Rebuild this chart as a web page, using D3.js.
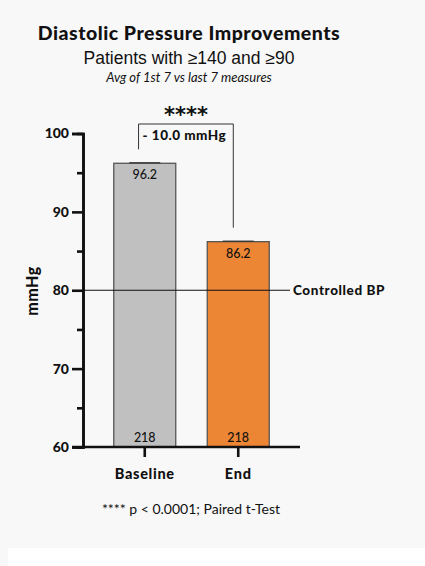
<!DOCTYPE html>
<html>
<head>
<meta charset="utf-8">
<script src="https://cdn.jsdelivr.net/npm/d3@7"></script>
<style>
  html, body { margin: 0; padding: 0; background: #f8f8f8; }
  svg { display: block; }
  text { fill: #111; }
</style>
</head>
<body>
<div id="chart"></div>
<script>
"use strict";

// chart data
var categories = ["Baseline", "End"];
var means = [96.2, 86.2];
var counts = [218, 218];
var colors = ["#c0c0c0", "#ec8534"];
var yMajorTicks = [60, 70, 80, 90, 100];
var yMinorTicks = [65, 75, 85, 95];
var controlledBP = 80;
var diffLabel = "- 10.0 mmHg";

var width = 425;
var height = 566;

var svg = d3.select("#chart")
    .append("svg")
    .attr("width", width)
    .attr("height", height);

// white strip at the bottom of the slide
svg.append("rect")
    .attr("x", 8).attr("y", 548)
    .attr("width", width - 8).attr("height", height - 548)
    .attr("fill", "#ffffff");

// titles
svg.append("text")
    .attr("x", 189).attr("y", 40)
    .attr("text-anchor", "middle")
    .style("font-family", "Lato, 'DejaVu Sans', sans-serif")
    .style("font-weight", "900")
    .style("font-size", "19.5px")
    .style("letter-spacing", "0.5px")
    .text("Diastolic Pressure Improvements");

svg.append("text")
    .attr("x", 189).attr("y", 64)
    .attr("text-anchor", "middle")
    .style("font-family", "'Liberation Sans', Arial, sans-serif")
    .style("font-size", "17.5px")
    .text("Patients with \u2265140 and \u226590");

svg.append("text")
    .attr("x", 189).attr("y", 82)
    .attr("text-anchor", "middle")
    .style("font-family", "Lato, sans-serif")
    .style("font-style", "italic")
    .style("font-size", "13px")
    .text("Avg of 1st 7 vs last 7 measures");

// scales
var y = d3.scaleLinear().domain([60, 100]).range([447, 133.5]);
var x = d3.scaleBand()
    .domain(categories)
    .range([83, 300])
    .paddingInner(0.337)
    .paddingOuter(0.329);

var plot = svg.append("g");

// bars
var bars = plot.selectAll("g.bar")
    .data(categories)
    .enter()
    .append("g")
    .attr("class", "bar");

bars.append("rect")
    .attr("x", function(d) { return x(d); })
    .attr("y", function(d, i) { return y(means[i]); })
    .attr("width", x.bandwidth())
    .attr("height", function(d, i) { return y(60) - y(means[i]); })
    .attr("fill", function(d, i) { return colors[i]; })
    .attr("stroke", "#555")
    .attr("stroke-width", 1.3);

// tiny error bars
bars.append("line")
    .attr("x1", function(d) { return x(d) + x.bandwidth() * 0.25; })
    .attr("x2", function(d) { return x(d) + x.bandwidth() * 0.75; })
    .attr("y1", function(d, i) { return y(means[i]) - 0.5; })
    .attr("y2", function(d, i) { return y(means[i]) - 0.5; })
    .attr("stroke", "#333")
    .attr("stroke-width", 1.2);

bars.append("text")
    .attr("x", function(d) { return x(d) + x.bandwidth() / 2; })
    .attr("y", function(d, i) { return y(means[i]) + 16; })
    .attr("text-anchor", "middle")
    .style("font-family", "Lato, sans-serif")
    .style("font-weight", "500")
    .style("font-size", "12.5px")
    .text(function(d, i) { return means[i].toFixed(1); });

bars.append("text")
    .attr("x", function(d) { return x(d) + x.bandwidth() / 2; })
    .attr("y", y(60) - 5)
    .attr("text-anchor", "middle")
    .style("font-family", "Lato, sans-serif")
    .style("font-weight", "500")
    .style("font-size", "12.5px")
    .text(function(d, i) { return counts[i]; });

// controlled BP reference line
plot.append("line")
    .attr("x1", 83).attr("x2", 290)
    .attr("y1", y(controlledBP)).attr("y2", y(controlledBP))
    .attr("stroke", "#111")
    .attr("stroke-width", 1);

plot.append("text")
    .attr("x", 293).attr("y", y(controlledBP) + 4.5)
    .style("font-family", "Lato, sans-serif")
    .style("font-weight", "900")
    .style("font-size", "13.5px")
    .style("letter-spacing", "0.6px")
    .text("Controlled BP");

// significance bracket
var bx1 = x(categories[0]) + x.bandwidth() * 0.4;
var bx2 = x(categories[1]) + x.bandwidth() * 0.42;
var bTop = 124;
plot.append("path")
    .attr("d", "M" + bx1 + "," + (y(means[0]) - 14) +
        "V" + bTop + "H" + bx2 + "V" + (y(means[1]) - 14))
    .attr("fill", "none")
    .attr("stroke", "#333")
    .attr("stroke-width", 1);

plot.append("text")
    .attr("x", bx1 + 4).attr("y", 140)
    .style("font-family", "Lato, sans-serif")
    .style("font-weight", "900")
    .style("font-size", "13.5px")
    .style("letter-spacing", "0.5px")
    .text(diffLabel);

plot.append("text")
    .attr("x", (bx1 + bx2) / 2).attr("y", 122)
    .attr("text-anchor", "middle")
    .style("font-family", "'DejaVu Sans', sans-serif")
    .style("font-weight", "bold")
    .style("font-size", "21px")
    .text("****");

// axes
var yAxis = plot.append("g")
    .attr("transform", "translate(83,0)")
    .call(d3.axisLeft(y).tickValues(yMajorTicks).tickSize(11).tickPadding(3));
var yMinor = plot.append("g")
    .attr("transform", "translate(83,0)")
    .call(d3.axisLeft(y).tickValues(yMinorTicks).tickSize(6).tickFormat(""));
var xAxis = plot.append("g")
    .attr("transform", "translate(0," + y(60) + ")")
    .call(d3.axisBottom(x).tickSize(10).tickPadding(12).tickSizeOuter(0));

[yAxis, yMinor, xAxis].forEach(function(a) {
    a.select(".domain").attr("stroke", "#111").attr("stroke-width", 2.6);
    a.selectAll(".tick line").attr("stroke", "#111").attr("stroke-width", 2.6);
});
// extend x axis line left to meet the 60 tick
xAxis.select(".domain").attr("d", "M72,0H300");

yAxis.selectAll("text")
    .style("font-family", "Lato, sans-serif")
    .style("font-weight", "900")
    .style("font-size", "14px")
    .attr("fill", "#111");
xAxis.selectAll("text")
    .style("font-family", "Lato, sans-serif")
    .style("font-weight", "900")
    .style("font-size", "14.5px")
    .style("letter-spacing", "0.7px")
    .attr("fill", "#111");

// y axis title
svg.append("text")
    .attr("transform", "translate(38,291) rotate(-90)")
    .attr("text-anchor", "middle")
    .style("font-family", "Lato, sans-serif")
    .style("font-weight", "900")
    .style("font-size", "16px")
    .style("letter-spacing", "0.5px")
    .text("mmHg");

// footnote
svg.append("text")
    .attr("x", 191).attr("y", 514)
    .attr("text-anchor", "middle")
    .style("font-family", "Lato, sans-serif")
    .style("font-size", "14px")
    .text("**** p < 0.0001; Paired t-Test");
</script>
</body>
</html>
